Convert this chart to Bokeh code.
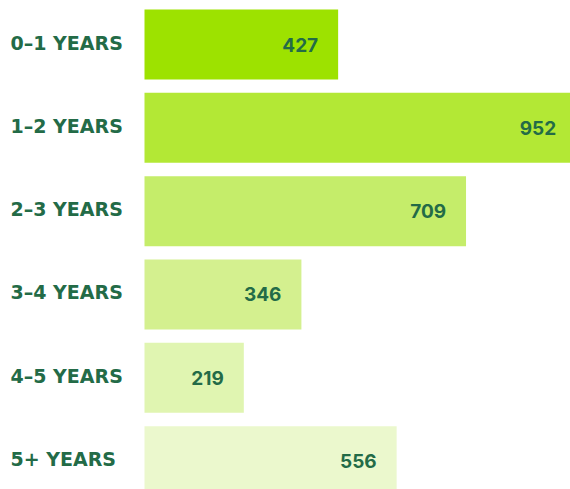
from bokeh.plotting import figure
from bokeh.models import ColumnDataSource, Range1d
from bokeh.core.properties import value
from bokeh.embed import file_html
from bokeh.resources import INLINE

categories = ["0\u20131 YEARS", "1\u20132 YEARS", "2\u20133 YEARS", "3\u20134 YEARS", "4\u20135 YEARS", "5+ YEARS"]
counts = [427, 952, 709, 346, 219, 556]
colors = ["#9de200", "#b3e835", "#c5ed6a", "#d4f08f", "#e0f5b1", "#ebf8cd"]

text_color = "#236b47"
W, H = 570, 489
px_per_unit = 0.4535
left_px = 144

src = ColumnDataSource(dict(
    y=list(range(len(categories))),
    cat=categories,
    val=counts,
    lbl=[str(v) for v in counts],
    color=colors,
    zero=[0] * len(counts),
))

x_start = -left_px / px_per_unit
x_end = x_start + W / px_per_unit
row_px = 83.33
y_start = -44 / row_px
y_end = y_start + H / row_px

p = figure(width=W, height=H, output_backend="svg", toolbar_location=None,
           x_range=Range1d(x_start, x_end), y_range=Range1d(y_end, y_start),
           min_border=0, outline_line_color=None, background_fill_color="white",
           border_fill_color="white")
p.axis.visible = False
p.grid.visible = False

p.hbar(y="y", left=0, right="val", height=0.84, fill_color="color",
       line_color=None, source=src)

p.text(x="val", y="y", text="lbl", x_offset=-20, text_align="right",
       text_baseline="middle", text_font=value("Inter"), text_font_style="bold",
       text_font_size="19px", text_color=text_color, source=src)

p.text(x="zero", y="y", text="cat", x_offset=-134, y_offset=-2, text_align="left",
       text_baseline="middle", text_font=value("DejaVu Sans"), text_font_style="bold",
       text_font_size="19px", text_color=text_color, source=src)

open("out.html", "w").write(file_html(p, INLINE))
